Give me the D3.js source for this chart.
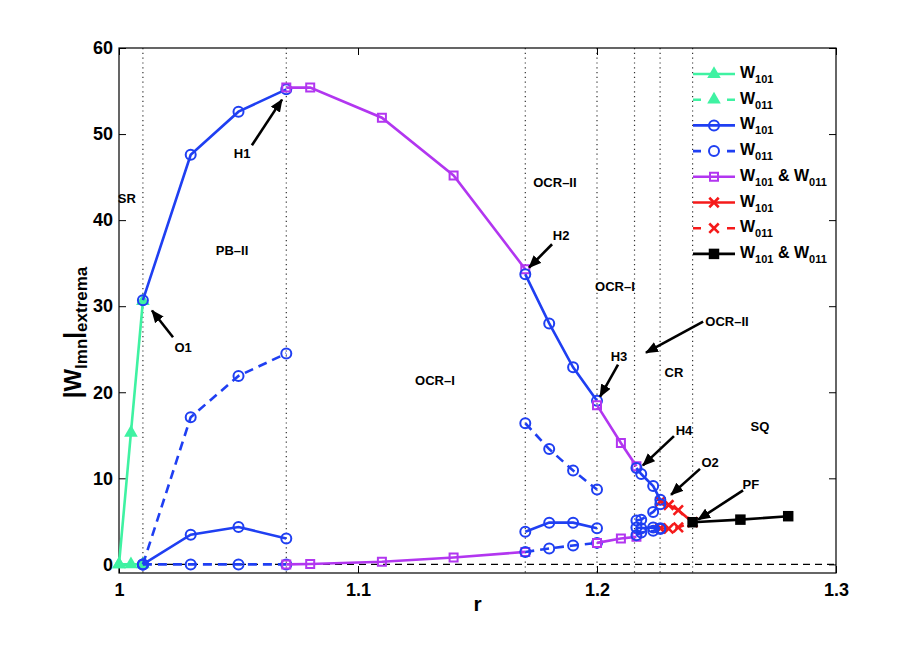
<!DOCTYPE html>
<html>
<head>
<meta charset="utf-8">
<script src="https://cdnjs.cloudflare.com/ajax/libs/d3/7.8.5/d3.min.js"></script>
<style>
body { margin: 0; background: #fff; }
text { font-family: "Liberation Sans", Arial, sans-serif; font-weight: bold; fill: #000; }
</style>
</head>
<body>
<div id="vis"></div>
<script>
/* *************************** Data ***************************** */

// r values for each stretch of the diagram
var rA = [1.0, 1.005, 1.01];
var rB = [1.01, 1.03, 1.05, 1.07];
var rC = [1.07, 1.08, 1.11, 1.14, 1.17];
var rD = [1.17, 1.18, 1.19, 1.2];
var rE = [1.2, 1.21, 1.2165];
var rF = [1.2165, 1.2185, 1.2235, 1.2265];
var rG = [1.2265, 1.23, 1.234, 1.24];
var rH = [1.24, 1.26, 1.28];

// |W| extrema
var greenW101 = [0, 15.3, 30.6];
var greenW011 = [0, 0, 0];

var blueW101MaxB = [30.7, 47.6, 52.6, 55.2];
var blueW101MinB = [0, 3.45, 4.35, 3.0];
var blueW011MaxB = [0, 17.1, 21.9, 24.5];
var blueW011MinB = [0, 0, 0, 0];

var purpleMaxC = [55.4, 55.4, 51.9, 45.2, 34.3];
var purpleMinC = [0, 0.05, 0.3, 0.8, 1.45];

var blueW101MaxD = [33.7, 28.0, 22.9, 19.0];
var blueW101MinD = [3.8, 4.85, 4.85, 4.2];
var blueW011MaxD = [16.4, 13.4, 10.9, 8.7];
var blueW011MinD = [1.45, 1.85, 2.2, 2.5];

var purpleMaxE = [18.5, 14.1, 11.4];
var purpleMinE = [2.5, 3.0, 3.2];

var blueW101MaxF = [11.2, 10.5, 9.1, 7.5];
var blueW011MaxF = [5.1, 5.2, 6.1, 7.0];
var blueW101MinF = [4.3, 4.2, 4.3, 4.2];
var blueW011MinF = [3.4, 3.7, 3.9, 4.1];

var redW101 = [7.3, 6.9, 6.3, 4.9];
var redW011 = [4.2, 4.15, 4.3, 4.9];

var blackW = [4.9, 5.2, 5.6];

// Region boundaries (dotted verticals)
var boundaries = [1.01, 1.07, 1.17, 1.2, 1.2157, 1.2264, 1.24];

// Ticks
var xTicks = [1, 1.1, 1.2, 1.3];
var yTicks = [0, 10, 20, 30, 40, 50, 60];

// Region / point labels: [text, r, W]
var labels = [
    ['SR', 1.0033, 42.5],
    ['PB\u2013II', 1.0473, 36.5],
    ['H1', 1.0515, 47.8],
    ['O1', 1.0268, 25.2],
    ['OCR\u2013II', 1.1824, 44.4],
    ['H2', 1.185, 38.2],
    ['OCR\u2013I', 1.2075, 32.3],
    ['H3', 1.2092, 24.2],
    ['OCR\u2013II', 1.2544, 28.2],
    ['CR', 1.2322, 22.3],
    ['OCR\u2013I', 1.1322, 21.4],
    ['H4', 1.2364, 15.6],
    ['SQ', 1.2682, 16.0],
    ['O2', 1.2473, 11.9],
    ['PF', 1.2644, 9.35]
];

// Arrows: [r tail, W tail, r head, W head]
var arrows = [
    [1.0556, 48.7, 1.0682, 54.0],
    [1.0226, 26.4, 1.0138, 29.5],
    [1.1812, 37.2, 1.1716, 34.5],
    [1.2088, 23.2, 1.2013, 19.5],
    [1.2444, 28.2, 1.2205, 24.6],
    [1.2322, 14.9, 1.2192, 11.5],
    [1.2431, 11.1, 1.231, 8.1],
    [1.2611, 8.6, 1.2423, 5.2]
];

/* *************************** Settings ***************************** */

var width = 920;
var height = 645;
var margin = { left: 119, right: 84, top: 48, bottom: 72 };
var drawWidth = width - margin.left - margin.right;
var drawHeight = height - margin.top - margin.bottom;

var green = '#3ff2a2';
var blue = '#1f3ff2';
var purple = '#b236f0';
var red = '#f51a1a';
var dash = '9,6';

var xScale = d3.scaleLinear().domain([1, 1.3]).range([0, drawWidth]);
var yScale = d3.scaleLinear().domain([-1, 60]).range([drawHeight, 0]);

// Every plotted curve
var series = [
    { r: rA, w: greenW101, color: green, dashed: false, marker: 'triangle' },
    { r: rA, w: greenW011, color: green, dashed: true, marker: 'triangle' },
    { r: rB, w: blueW101MaxB, color: blue, dashed: false, marker: 'circle' },
    { r: rB, w: blueW101MinB, color: blue, dashed: false, marker: 'circle' },
    { r: rB, w: blueW011MaxB, color: blue, dashed: true, marker: 'circle' },
    { r: rB, w: blueW011MinB, color: blue, dashed: true, marker: 'circle' },
    { r: rC, w: purpleMaxC, color: purple, dashed: false, marker: 'square' },
    { r: rC, w: purpleMinC, color: purple, dashed: false, marker: 'square' },
    { r: rD, w: blueW101MaxD, color: blue, dashed: false, marker: 'circle' },
    { r: rD, w: blueW101MinD, color: blue, dashed: false, marker: 'circle' },
    { r: rD, w: blueW011MaxD, color: blue, dashed: true, marker: 'circle' },
    { r: rD, w: blueW011MinD, color: blue, dashed: true, marker: 'circle' },
    { r: rE, w: purpleMaxE, color: purple, dashed: false, marker: 'square' },
    { r: rE, w: purpleMinE, color: purple, dashed: false, marker: 'square' },
    { r: rG, w: redW101, color: red, dashed: false, marker: 'cross' },
    { r: rG, w: redW011, color: red, dashed: true, marker: 'cross' },
    { r: rF, w: blueW101MaxF, color: blue, dashed: false, marker: 'circle' },
    { r: rF, w: blueW011MaxF, color: blue, dashed: true, marker: 'circle' },
    { r: rF, w: blueW101MinF, color: blue, dashed: false, marker: 'circle' },
    { r: rF, w: blueW011MinF, color: blue, dashed: true, marker: 'circle' },
    { r: rH, w: blackW, color: '#000', dashed: false, marker: 'filledSquare' }
];

var legendItems = [
    { color: green, dashed: false, marker: 'triangle', parts: [['W', 0], ['101', 1]] },
    { color: green, dashed: true, marker: 'triangle', parts: [['W', 0], ['011', 1]] },
    { color: blue, dashed: false, marker: 'circle', parts: [['W', 0], ['101', 1]] },
    { color: blue, dashed: true, marker: 'circle', parts: [['W', 0], ['011', 1]] },
    { color: purple, dashed: false, marker: 'square', parts: [['W', 0], ['101', 1], [' & W', 0], ['011', 1]] },
    { color: red, dashed: false, marker: 'cross', parts: [['W', 0], ['101', 1]] },
    { color: red, dashed: true, marker: 'cross', parts: [['W', 0], ['011', 1]] },
    { color: '#000', dashed: false, marker: 'filledSquare', parts: [['W', 0], ['101', 1], [' & W', 0], ['011', 1]] }
];

/* *************************** Static elements ***************************** */

var svg = d3.select('#vis')
    .append('svg')
    .attr('width', width)
    .attr('height', height);

svg.append('defs').append('marker')
    .attr('id', 'arrow')
    .attr('viewBox', '0 0 12 10')
    .attr('refX', 11)
    .attr('refY', 5)
    .attr('markerUnits', 'userSpaceOnUse')
    .attr('markerWidth', 13)
    .attr('markerHeight', 11)
    .attr('orient', 'auto')
    .append('path')
    .attr('d', 'M0,0 L12,5 L0,10 Z')
    .attr('fill', '#000');

var g = svg.append('g')
    .attr('transform', 'translate(' + margin.left + ',' + margin.top + ')');

// Dotted region boundaries
g.selectAll('.boundary')
    .data(boundaries)
    .enter().append('line')
    .attr('class', 'boundary')
    .attr('x1', function(d) { return xScale(d); })
    .attr('x2', function(d) { return xScale(d); })
    .attr('y1', 0)
    .attr('y2', drawHeight)
    .attr('stroke', '#333')
    .attr('stroke-width', 1.2)
    .attr('stroke-dasharray', '1.2,3.6');

// Zero reference line
g.append('line')
    .attr('x1', 0)
    .attr('x2', drawWidth)
    .attr('y1', yScale(0))
    .attr('y2', yScale(0))
    .attr('stroke', '#000')
    .attr('stroke-width', 1.4)
    .attr('stroke-dasharray', '7,5');

/* *************************** Axes ***************************** */

var styleAxis = function(sel) {
    sel.select('.domain').remove();
    sel.selectAll('.tick line').attr('stroke', '#000').attr('stroke-width', 1);
    sel.selectAll('.tick text')
        .attr('font-size', 18)
        .attr('font-family', '"Liberation Sans", Arial, sans-serif')
        .attr('font-weight', 'bold')
        .attr('fill', '#000');
};

var fmt = function(d) { return String(d); };

g.append('g')
    .attr('transform', 'translate(0,' + drawHeight + ')')
    .call(d3.axisBottom(xScale).tickValues(xTicks).tickFormat(fmt).tickSize(-7).tickSizeOuter(0).tickPadding(10))
    .call(styleAxis);

g.append('g')
    .call(d3.axisTop(xScale).tickValues(xTicks).tickFormat('').tickSize(-7).tickSizeOuter(0))
    .call(styleAxis);

g.append('g')
    .call(d3.axisLeft(yScale).tickValues(yTicks).tickFormat(fmt).tickSize(-7).tickSizeOuter(0).tickPadding(6))
    .call(styleAxis);

g.append('g')
    .attr('transform', 'translate(' + drawWidth + ',0)')
    .call(d3.axisRight(yScale).tickValues(yTicks).tickFormat('').tickSize(-7).tickSizeOuter(0))
    .call(styleAxis);

g.append('rect')
    .attr('width', drawWidth)
    .attr('height', drawHeight)
    .attr('fill', 'none')
    .attr('stroke', '#000')
    .attr('stroke-width', 1.2);

// Axis titles
svg.append('text')
    .attr('x', margin.left + xScale(1.15))
    .attr('y', 611)
    .attr('text-anchor', 'middle')
    .attr('font-size', 21)
    .text('r');

var yTitle = svg.append('text')
    .attr('transform', 'translate(81,' + (margin.top + drawHeight / 2 + 22) + ') rotate(-90)')
    .attr('text-anchor', 'middle');
yTitle.append('tspan').attr('font-size', 24).text('|W');
yTitle.append('tspan').attr('font-size', 17).attr('dy', 6).text('lmn');
yTitle.append('tspan').attr('font-size', 24).attr('dy', -6).text('|');
yTitle.append('tspan').attr('font-size', 17).attr('dy', 6).text('extrema');

/* *************************** Curves ***************************** */

var line = d3.line()
    .x(function(d) { return xScale(d[0]); })
    .y(function(d) { return yScale(d[1]); });

// Draw one marker of a given kind into a selection
var drawMarker = function(sel, kind, color) {
    if (kind === 'circle') {
        sel.append('circle').attr('r', 5)
            .attr('fill', 'none').attr('stroke', color).attr('stroke-width', 2);
    } else if (kind === 'triangle') {
        sel.append('path').attr('d', d3.symbol(d3.symbolTriangle, 80)())
            .attr('fill', color);
    } else if (kind === 'square') {
        sel.append('path').attr('d', d3.symbol(d3.symbolSquare, 64)())
            .attr('fill', 'none').attr('stroke', color).attr('stroke-width', 2);
    } else if (kind === 'filledSquare') {
        sel.append('path').attr('d', d3.symbol(d3.symbolSquare, 110)())
            .attr('fill', color);
    } else if (kind === 'cross') {
        sel.append('path').attr('d', d3.symbol(d3.symbolX, 60)())
            .attr('fill', 'none').attr('stroke', color).attr('stroke-width', 2.6);
    }
};

series.forEach(function(s) {
    var pts = d3.zip(s.r, s.w);
    var sg = g.append('g');

    sg.append('path')
        .datum(pts)
        .attr('d', line)
        .attr('fill', 'none')
        .attr('stroke', s.color)
        .attr('stroke-width', 2.6)
        .attr('stroke-dasharray', s.dashed ? dash : null);

    sg.selectAll('.pt')
        .data(pts)
        .enter().append('g')
        .attr('class', 'pt')
        .attr('transform', function(d) {
            return 'translate(' + xScale(d[0]) + ',' + yScale(d[1]) + ')';
        })
        .each(function() {
            drawMarker(d3.select(this), s.marker, s.color);
        });
});

/* *************************** Annotations ***************************** */

g.selectAll('.arrow')
    .data(arrows)
    .enter().append('line')
    .attr('class', 'arrow')
    .attr('x1', function(d) { return xScale(d[0]); })
    .attr('y1', function(d) { return yScale(d[1]); })
    .attr('x2', function(d) { return xScale(d[2]); })
    .attr('y2', function(d) { return yScale(d[3]); })
    .attr('stroke', '#000')
    .attr('stroke-width', 2.6)
    .attr('marker-end', 'url(#arrow)');

g.selectAll('.label')
    .data(labels)
    .enter().append('text')
    .attr('class', 'label')
    .attr('x', function(d) { return xScale(d[1]); })
    .attr('y', function(d) { return yScale(d[2]); })
    .attr('dy', '0.36em')
    .attr('text-anchor', 'middle')
    .attr('font-size', 13)
    .text(function(d) { return d[0]; });

/* *************************** Legend ***************************** */

var legend = svg.append('g')
    .attr('transform', 'translate(693,74)');

legendItems.forEach(function(item, i) {
    var row = legend.append('g')
        .attr('transform', 'translate(0,' + (i * 25.7) + ')');

    row.append('line')
        .attr('x1', 0).attr('x2', 42)
        .attr('stroke', item.color)
        .attr('stroke-width', 2.6)
        .attr('stroke-dasharray', item.dashed ? '8,26,8' : null);

    drawMarker(row.append('g').attr('transform', 'translate(21,0)'), item.marker, item.color);

    var t = row.append('text').attr('x', 47).attr('y', 4);
    var shifted = 0;
    item.parts.forEach(function(p) {
        var sub = p[1] === 1;
        var dy = sub ? 5 - shifted : -shifted;
        shifted = sub ? 5 : 0;
        t.append('tspan')
            .attr('font-size', sub ? 11 : 16)
            .attr('dy', dy)
            .text(p[0]);
    });
});
</script>
</body>
</html>
